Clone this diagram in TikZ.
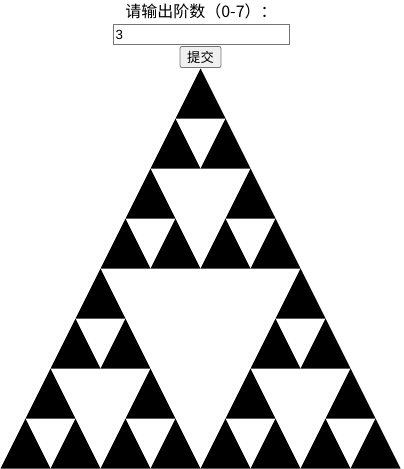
\documentclass[tikz,border=0pt]{standalone}
\usepackage{fontspec}
\setmainfont{Liberation Sans}
\newfontfamily\cjk{Noto Sans CJK SC}
\begin{document}
\begin{tikzpicture}[x=1pt,y=-1pt,
  tri/.style={fill=black},
  inputbox/.style={draw=black!54,line width=0.8pt,fill=white,minimum width=176pt,minimum height=20pt,inner sep=0pt},
  btn/.style={draw=black!54,line width=0.8pt,fill=black!6,rounded corners=2pt,minimum width=41pt,minimum height=21pt,inner sep=0pt}]
\useasboundingbox (0,0) rectangle (404,469);
\node[font=\cjk\fontsize{16}{16}\selectfont,anchor=base,inner sep=0pt] (title) at (201,17) {请输出阶数（0-7）：};
\node[inputbox] (inp) at (201,34) {};
\node[anchor=base west,font=\fontsize{13.3}{13.3}\selectfont,inner sep=0pt] (val) at (115.5,39) {3};
\node[btn] (sub) at (200.5,57) {};
\node[font=\cjk\fontsize{13.3}{13.3}\selectfont,inner sep=0pt] (subt) at (sub) {提交};
\foreach \ax/\ay in {0/0,-100/200,100/200}{
  \foreach \bx/\by in {0/0,-50/100,50/100}{
    \foreach \cx/\cy in {0/0,-25/50,25/50}{
      \fill[tri] (200.5+\ax+\bx+\cx,68.5+\ay+\by+\cy) -- ++(-25,50) -- ++(50,0) -- cycle;
    }
  }
}
\end{tikzpicture}
\end{document}
